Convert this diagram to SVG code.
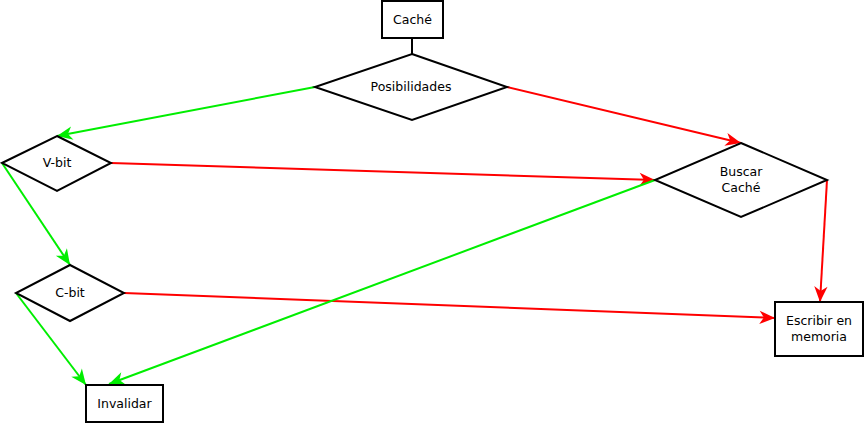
<svg xmlns="http://www.w3.org/2000/svg" width="867" height="425" viewBox="0 0 867 425">
<style>
.n{fill:#fff;stroke:#000;stroke-width:2}
.t{font-family:"DejaVu Sans",sans-serif;font-size:12.5px;fill:#000;text-anchor:middle}
.g{stroke:#00ee00;stroke-width:2;fill:none}
.r{stroke:#ff0000;stroke-width:2;fill:none}
</style>
<defs>
<marker id="ag" markerUnits="userSpaceOnUse" markerWidth="20" markerHeight="20" viewBox="-16 -8 18 16" refX="0" refY="0" orient="auto"><path d="M0,0 L-14,-6 L-10,0 L-14,6 z" fill="#00ee00"/></marker>
<marker id="ar" markerUnits="userSpaceOnUse" markerWidth="20" markerHeight="20" viewBox="-16 -8 18 16" refX="0" refY="0" orient="auto"><path d="M0,0 L-14,-6 L-10,0 L-14,6 z" fill="#ff0000"/></marker>
</defs>
<rect width="867" height="425" fill="#fff"/>
<g id="connectors">
<line x1="412" y1="38" x2="412" y2="54" stroke="#000" stroke-width="2"/>
<line class="g" x1="315" y1="87" x2="57" y2="136" marker-end="url(#ag)"/>
<line class="r" x1="507" y1="87" x2="741" y2="143" marker-end="url(#ar)"/>
<line class="r" x1="111" y1="163" x2="655" y2="180" marker-end="url(#ar)"/>
<line class="g" x1="2" y1="163" x2="70" y2="265" marker-end="url(#ag)"/>
<line class="r" x1="124" y1="293" x2="775" y2="318" marker-end="url(#ar)"/>
<line class="g" x1="16" y1="293" x2="86" y2="385" marker-end="url(#ag)"/>
<line class="g" x1="655" y1="180" x2="109" y2="384" marker-end="url(#ag)"/>
<line class="r" x1="827" y1="180" x2="820" y2="302" marker-end="url(#ar)"/>
</g>
<g id="cache">
<rect class="n" x="382" y="1" width="61" height="37"/>
<text class="t" x="412.5" y="24">Caché</text>
</g>
<g id="posibilidades">
<polygon class="n" points="412,54 507,87 412,120 315,87"/>
<text class="t" x="411" y="91">Posibilidades</text>
</g>
<g id="vbit">
<polygon class="n" points="57,136 111,163 57,191 2,163"/>
<text class="t" x="57" y="167">V-bit</text>
</g>
<g id="cbit">
<polygon class="n" points="70,265 124,293 70,321 16,293"/>
<text class="t" x="70" y="297">C-bit</text>
</g>
<g id="buscar">
<polygon class="n" points="741,143 827,180 741,217 655,180"/>
<text class="t" x="741" y="176">Buscar</text>
<text class="t" x="741" y="192">Caché</text>
</g>
<g id="escribir">
<rect class="n" x="775" y="302" width="88" height="54"/>
<text class="t" x="819" y="325">Escribir en</text>
<text class="t" x="819" y="341">memoria</text>
</g>
<g id="invalidar">
<rect class="n" x="86" y="385" width="77" height="37"/>
<text class="t" x="124.5" y="408">Invalidar</text>
</g>
</svg>
